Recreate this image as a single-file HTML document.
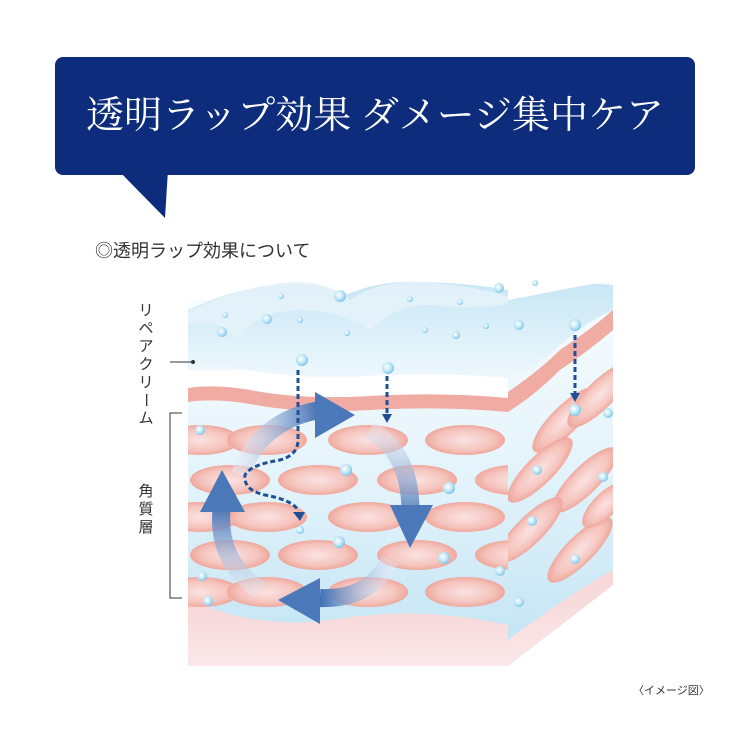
<!DOCTYPE html>
<html><head><meta charset="utf-8"><style>
body{margin:0;background:#fff;}
svg{display:block}
</style></head><body>
<svg width="750" height="750" viewBox="0 0 750 750" xmlns="http://www.w3.org/2000/svg">
<defs>
<linearGradient id="bg" x1="0" y1="0" x2="0" y2="1">
<stop offset="0" stop-color="#fafdff"/><stop offset="0.5" stop-color="#e3f3fb"/><stop offset="1" stop-color="#bfe3f3"/></linearGradient>
<linearGradient id="cream" x1="0" y1="0" x2="0" y2="1">
<stop offset="0" stop-color="#c8e6f4"/><stop offset="1" stop-color="#eef8fd"/></linearGradient>
<linearGradient id="pk" x1="0" y1="0" x2="0" y2="1">
<stop offset="0" stop-color="#f7d6d6"/><stop offset="1" stop-color="#fbe8ea"/></linearGradient>
<radialGradient id="el" cx="0.5" cy="0.5" r="0.5">
<stop offset="0" stop-color="#fbe3e3"/><stop offset="0.7" stop-color="#f5c4bd"/><stop offset="1" stop-color="#efa89d"/></radialGradient>
<radialGradient id="bub" cx="0.4" cy="0.4" r="0.6">
<stop offset="0" stop-color="#fff"/><stop offset="0.6" stop-color="#bfe6f7"/><stop offset="1" stop-color="#7fc6e8"/></radialGradient>
<linearGradient id="ar" x1="0" y1="0" x2="1" y2="0">
<stop offset="0" stop-color="#e4e8f4" stop-opacity="0.5"/><stop offset="1" stop-color="#3f6fb3"/></linearGradient>
<linearGradient id="ar2" x1="0" y1="0" x2="0" y2="1">
<stop offset="0" stop-color="#e4e8f4" stop-opacity="0.4"/><stop offset="1" stop-color="#3f6fb3"/></linearGradient>
<linearGradient id="ar3" x1="1" y1="0" x2="0" y2="0">
<stop offset="0" stop-color="#e4e8f4" stop-opacity="0.4"/><stop offset="1" stop-color="#3f6fb3"/></linearGradient>
<linearGradient id="ar4" x1="0" y1="1" x2="0" y2="0">
<stop offset="0" stop-color="#e4e8f4" stop-opacity="0.4"/><stop offset="1" stop-color="#3f6fb3"/></linearGradient>
<clipPath id="front"><rect x="188" y="270" width="320" height="396"/></clipPath>
<clipPath id="side"><path d="M508 300 L613 280 L613 585 L508 666 Z"/></clipPath>
</defs>

<rect x="55" y="57" width="640" height="118" rx="8" fill="#0d2c7c"/>
<path d="M118 170 L168 170 L165 218 Z" fill="#0d2c7c"/>
<text x="375" y="128" fill="#fff" font-size="38" text-anchor="middle" font-family="'Liberation Serif','Noto Serif CJK SC',serif">透明ラップ効果 ダメージ集中ケア</text>

<text x="95" y="257" fill="#333" font-size="18" font-family="'Liberation Sans','Noto Sans CJK JP',sans-serif">◎透明ラップ効果について</text>

<g clip-path="url(#front)">
<rect x="188" y="300" width="320" height="366" fill="url(#bg)"/>
<path d="M188 600 Q260 630 330 620 Q420 605 508 625 L508 666 L188 666 Z" fill="url(#pk)"/>
<g fill="url(#el)">
<ellipse cx="200" cy="440" rx="40" ry="15"/><ellipse cx="267" cy="440" rx="40" ry="15"/><ellipse cx="368" cy="440" rx="40" ry="15"/><ellipse cx="465" cy="440" rx="40" ry="15"/>
<ellipse cx="230" cy="480" rx="40" ry="15"/><ellipse cx="318" cy="480" rx="40" ry="15"/><ellipse cx="417" cy="480" rx="40" ry="15"/><ellipse cx="515" cy="480" rx="40" ry="15"/>
<ellipse cx="200" cy="517" rx="40" ry="15"/><ellipse cx="267" cy="517" rx="40" ry="15"/><ellipse cx="368" cy="517" rx="40" ry="15"/><ellipse cx="465" cy="517" rx="40" ry="15"/>
<ellipse cx="230" cy="555" rx="40" ry="15"/><ellipse cx="318" cy="555" rx="40" ry="15"/><ellipse cx="417" cy="555" rx="40" ry="15"/><ellipse cx="515" cy="555" rx="40" ry="15"/>
<ellipse cx="200" cy="592" rx="40" ry="15"/><ellipse cx="267" cy="592" rx="40" ry="15"/><ellipse cx="368" cy="592" rx="40" ry="15"/><ellipse cx="465" cy="592" rx="40" ry="15"/>
</g>
<path d="M188 370 L508 370 L508 398 Q440 392 370 396 Q300 400 250 390 Q215 384 188 388 Z" fill="#fff"/>
<path d="M188 388 Q215 384 250 390 Q300 400 370 396 Q440 392 508 398 L508 412 Q440 406 370 410 Q300 414 250 404 Q215 398 188 402 Z" fill="#f0aba3"/>
<path d="M188 310 Q230 290 270 286 Q310 280 345 295 Q380 280 420 282 Q470 283 508 290 L508 378 Q440 372 370 376 Q300 380 250 370 Q215 364 188 368 Z" fill="url(#cream)"/>
<path d="M188 312 Q230 290 270 285 Q320 275 350 300 Q380 280 420 282 Q470 285 508 296 L508 304 Q470 310 430 305 Q395 305 370 330 Q340 310 300 310 Q250 312 240 340 Q220 318 188 325 Z" fill="#e4f2fa" opacity="0.9"/>
</g>

<g clip-path="url(#side)">
<rect x="508" y="270" width="110" height="400" fill="url(#bg)"/>
<path d="M508 640 Q560 600 613 570 L613 600 L508 670 Z" fill="url(#pk)"/>
<g fill="url(#el)">
<ellipse cx="565" cy="420" rx="44" ry="14" transform="rotate(-45 565 420)"/>
<ellipse cx="600" cy="395" rx="44" ry="14" transform="rotate(-45 600 395)"/>
<ellipse cx="540" cy="470" rx="44" ry="14" transform="rotate(-45 540 470)"/>
<ellipse cx="585" cy="480" rx="44" ry="14" transform="rotate(-45 585 480)"/>
<ellipse cx="530" cy="530" rx="44" ry="14" transform="rotate(-45 530 530)"/>
<ellipse cx="580" cy="550" rx="44" ry="14" transform="rotate(-45 580 550)"/>
<ellipse cx="605" cy="505" rx="30" ry="12" transform="rotate(-45 605 505)"/>
</g>
<path d="M508 392 Q540 370 560 350 Q590 330 613 310 L613 330 Q590 350 560 370 Q535 395 508 412 Z" fill="#f0aba3"/>
<path d="M508 290 Q560 280 613 285 L613 310 Q590 320 560 345 Q530 372 508 378 Z" fill="url(#cream)"/>
</g>

<g>
<path d="M240 475 Q260 420 320 410" fill="none" stroke="url(#ar)" stroke-width="18"/>
<path d="M315 392 L355 415 L315 438 Z" fill="#4a78b8"/>
<path d="M370 430 Q415 455 410 525" fill="none" stroke="url(#ar2)" stroke-width="18"/>
<path d="M390 505 L433 505 L410 548 Z" fill="#4a78b8"/>
<path d="M390 560 Q370 600 320 598" fill="none" stroke="url(#ar3)" stroke-width="18"/>
<path d="M320 578 L278 600 L320 624 Z" fill="#4a78b8"/>
<path d="M260 590 Q215 560 222 505" fill="none" stroke="url(#ar4)" stroke-width="18"/>
<path d="M200 512 L222 470 L245 512 Z" fill="#4a78b8"/>
</g>

<g stroke="#1f4f94" stroke-width="3" stroke-dasharray="5,3" fill="none">
<path d="M298 370 L298 440 Q298 455 280 460 Q250 465 245 475 Q243 490 265 495 Q292 500 298 510"/>
<path d="M387 376 L387 414"/>
<path d="M575 335 L575 395"/>
</g>
<g fill="#1f4f94">
<path d="M293 512 L305 512 L300 521 Z"/>
<path d="M382 414 L392 414 L387 423 Z"/>
<path d="M570 393 L580 393 L575 402 Z"/>
</g>

<g fill="url(#bub)">
<circle cx="222" cy="332" r="5"/><circle cx="267" cy="319" r="5"/><circle cx="340" cy="296" r="6"/><circle cx="300" cy="320" r="3"/>
<circle cx="302" cy="360" r="6"/><circle cx="388" cy="368" r="6"/><circle cx="281" cy="296" r="3"/><circle cx="225" cy="315" r="3"/>
<circle cx="347" cy="333" r="3"/><circle cx="410" cy="299" r="3"/><circle cx="425" cy="330" r="3"/><circle cx="456" cy="335" r="4"/>
<circle cx="486" cy="326" r="3"/><circle cx="519" cy="325" r="5"/><circle cx="499" cy="288" r="5"/><circle cx="535" cy="283" r="3"/>
<circle cx="460" cy="302" r="3"/><circle cx="575" cy="325" r="6"/>
<circle cx="200" cy="430" r="5"/><circle cx="346" cy="470" r="6"/><circle cx="449" cy="488" r="6"/><circle cx="300" cy="530" r="4"/>
<circle cx="339" cy="542" r="6"/><circle cx="444" cy="558" r="6"/><circle cx="500" cy="571" r="5"/><circle cx="202" cy="576" r="5"/>
<circle cx="208" cy="601" r="5"/><circle cx="575" cy="410" r="6"/><circle cx="608" cy="413" r="5"/><circle cx="537" cy="470" r="5"/>
<circle cx="603" cy="477" r="5"/><circle cx="532" cy="521" r="5"/><circle cx="575" cy="559" r="5"/><circle cx="519" cy="602" r="5"/>
</g>

<g font-family="'Liberation Sans','Noto Sans CJK JP',sans-serif" font-size="15" fill="#333" text-anchor="middle">
<text x="146" y="315">リ</text><text x="146" y="333">ペ</text><text x="146" y="351">ア</text><text x="146" y="369">ク</text><text x="146" y="387">リ</text><text x="146" y="405" transform="rotate(90 146 400)">ー</text><text x="146" y="423">ム</text>
<text x="146" y="496">角</text><text x="146" y="514">質</text><text x="146" y="532">層</text>
</g>
<line x1="170" y1="362" x2="192" y2="362" stroke="#333" stroke-width="1"/>
<circle cx="193" cy="362" r="2" fill="#333"/>
<path d="M182 413 L170 413 L170 598 L182 598" fill="none" stroke="#333" stroke-width="1"/>
<text x="633" y="694" font-size="11" fill="#333" font-family="'Liberation Sans','Noto Sans CJK JP',sans-serif">〈イメージ図〉</text>
</svg>
</body></html>
